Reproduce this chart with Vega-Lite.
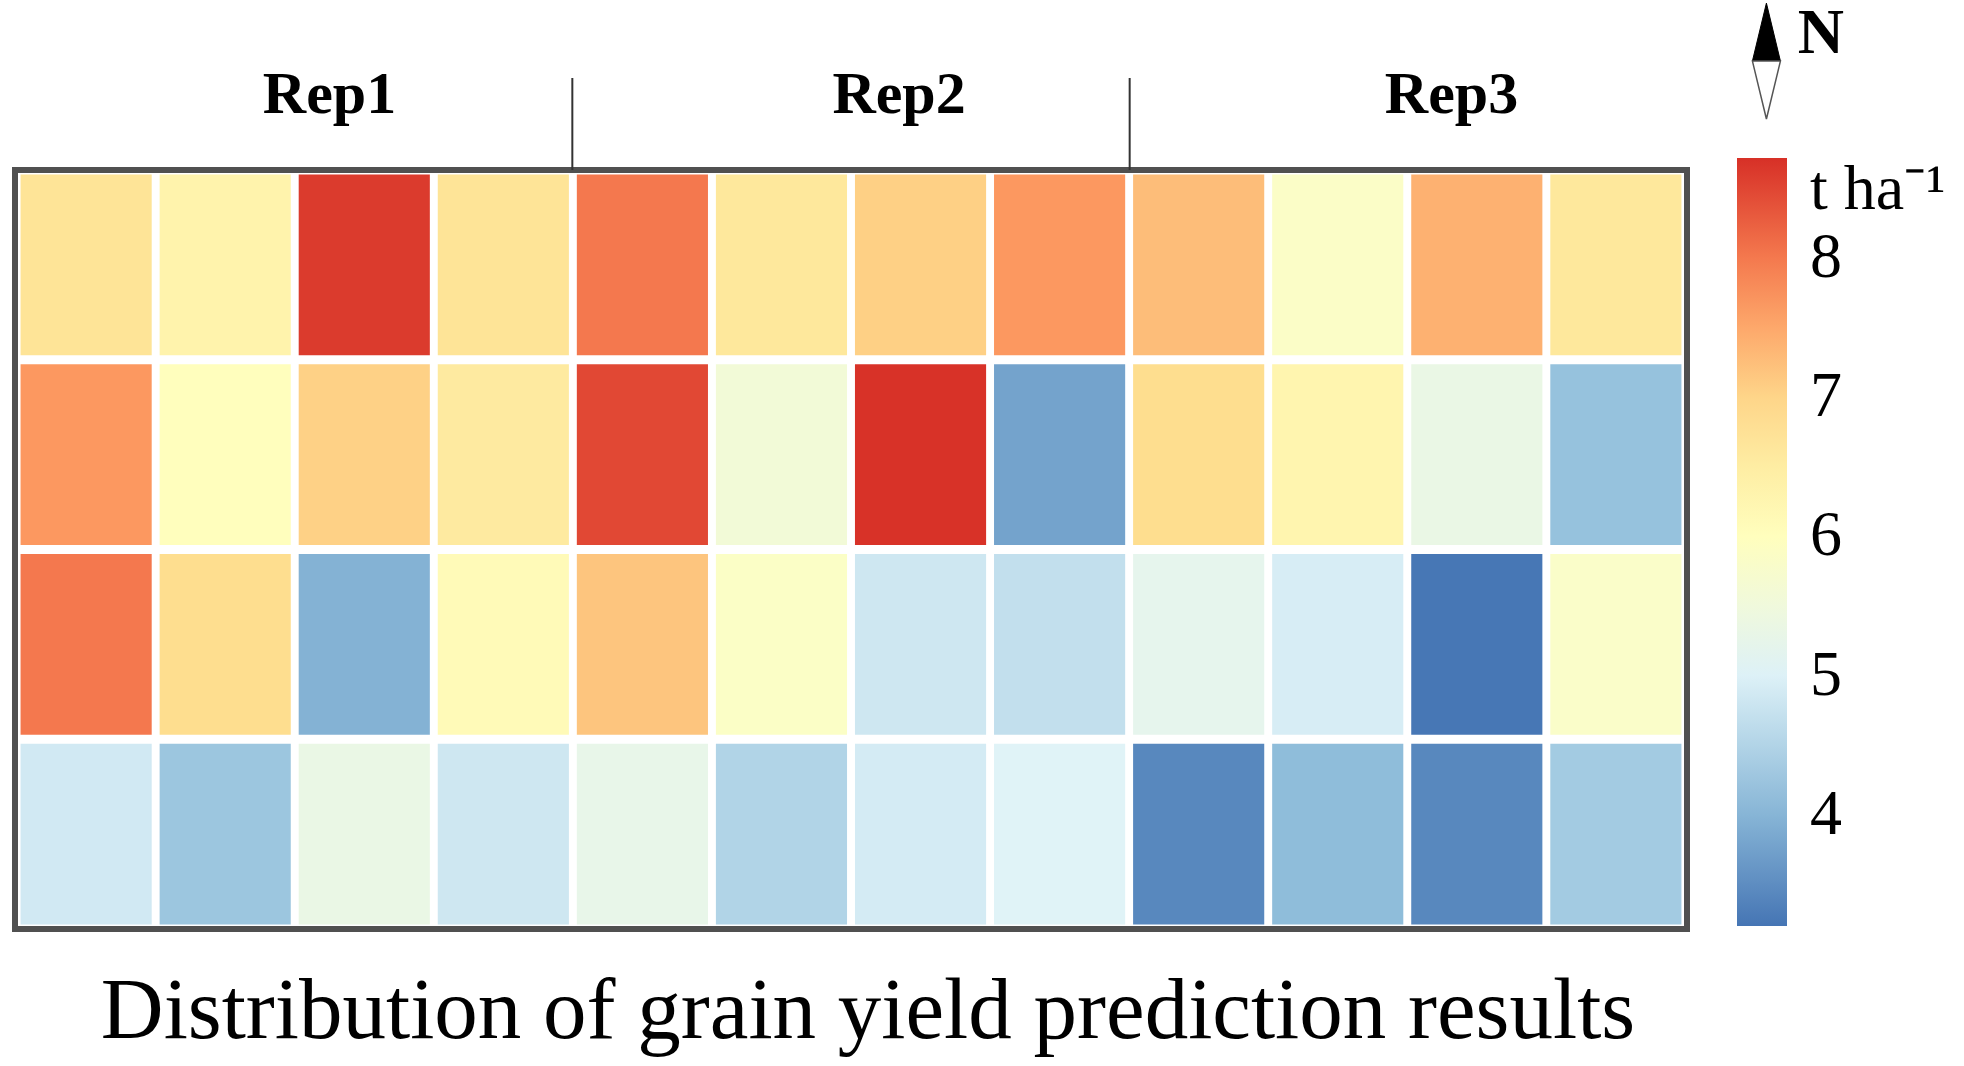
{
  "$schema": "https://vega.github.io/schema/vega-lite/v6.json",
  "width": 1672,
  "height": 759,
  "autosize": {"type": "none"},
  "padding": {"left": 15, "top": 170, "right": 277, "bottom": 137},
  "background": "white",
  "config": {
    "view": {"stroke": "#505050", "strokeWidth": 6},
    "font": "Liberation Serif"
  },
  "title": {
    "text": "Distribution of grain yield prediction results",
    "orient": "bottom",
    "anchor": "middle",
    "font": "Liberation Serif",
    "fontSize": 87,
    "fontWeight": "normal",
    "color": "black",
    "baseline": "alphabetic",
    "offset": 109,
    "dx": 17
  },
  "datasets": {
    "cells": [
      {"row": 1, "col": 1, "yield": 6.75}, {"row": 1, "col": 2, "yield": 6.33}, {"row": 1, "col": 3, "yield": 8.61}, {"row": 1, "col": 4, "yield": 6.75},
      {"row": 1, "col": 5, "yield": 8.01}, {"row": 1, "col": 6, "yield": 6.65}, {"row": 1, "col": 7, "yield": 7.06}, {"row": 1, "col": 8, "yield": 7.68},
      {"row": 1, "col": 9, "yield": 7.27}, {"row": 1, "col": 10, "yield": 5.83}, {"row": 1, "col": 11, "yield": 7.4}, {"row": 1, "col": 12, "yield": 6.65},
      {"row": 2, "col": 1, "yield": 7.68}, {"row": 2, "col": 2, "yield": 6.0}, {"row": 2, "col": 3, "yield": 7.05}, {"row": 2, "col": 4, "yield": 6.57},
      {"row": 2, "col": 5, "yield": 8.48}, {"row": 2, "col": 6, "yield": 5.57}, {"row": 2, "col": 7, "yield": 8.7}, {"row": 2, "col": 8, "yield": 3.77},
      {"row": 2, "col": 9, "yield": 6.9}, {"row": 2, "col": 10, "yield": 6.27}, {"row": 2, "col": 11, "yield": 5.35}, {"row": 2, "col": 12, "yield": 4.18},
      {"row": 3, "col": 1, "yield": 8.01}, {"row": 3, "col": 2, "yield": 6.9}, {"row": 3, "col": 3, "yield": 3.96}, {"row": 3, "col": 4, "yield": 6.1},
      {"row": 3, "col": 5, "yield": 7.18}, {"row": 3, "col": 6, "yield": 5.85}, {"row": 3, "col": 7, "yield": 4.83}, {"row": 3, "col": 8, "yield": 4.69},
      {"row": 3, "col": 9, "yield": 5.21}, {"row": 3, "col": 10, "yield": 4.93}, {"row": 3, "col": 11, "yield": 3.22}, {"row": 3, "col": 12, "yield": 5.8},
      {"row": 4, "col": 1, "yield": 4.87}, {"row": 4, "col": 2, "yield": 4.25}, {"row": 4, "col": 3, "yield": 5.35}, {"row": 4, "col": 4, "yield": 4.83},
      {"row": 4, "col": 5, "yield": 5.28}, {"row": 4, "col": 6, "yield": 4.49}, {"row": 4, "col": 7, "yield": 4.9}, {"row": 4, "col": 8, "yield": 5.05},
      {"row": 4, "col": 9, "yield": 3.43}, {"row": 4, "col": 10, "yield": 4.1}, {"row": 4, "col": 11, "yield": 3.43}, {"row": 4, "col": 12, "yield": 4.33}
    ],
    "reps": [
      {"label": "Rep1", "x": 2.257, "y": 4.3},
      {"label": "Rep2", "x": 6.345, "y": 4.3},
      {"label": "Rep3", "x": 10.31, "y": 4.3}
    ],
    "seps": [
      {"x": 4, "y": 4, "y2": 4.485},
      {"x": 8, "y": 4, "y2": 4.485}
    ],
    "north": [
      {"x": 12.57, "y": 4.574}
    ],
    "northlabel": [
      {"x": 12.96, "y": 4.617, "label": "N"}
    ]
  },
  "layer": [
    {
      "data": {"name": "cells"},
      "mark": {"type": "rect"},
      "encoding": {
        "x": {"field": "col", "type": "ordinal", "axis": null, "scale": {"paddingInner": 0.057, "paddingOuter": 0.04}},
        "y": {"field": "row", "type": "ordinal", "axis": null, "scale": {"paddingInner": 0.047, "paddingOuter": 0.024}},
        "color": {
          "field": "yield",
          "type": "quantitative",
          "scale": {
            "domain": [3.2, 8.72],
            "range": ["#4575b4", "#91bfdb", "#e0f3f8", "#ffffbf", "#fee090", "#fc8d59", "#d73027"],
            "interpolate": "rgb"
          },
          "legend": {
            "orient": "none",
            "legendX": 1722,
            "legendY": -12,
            "direction": "vertical",
            "gradientLength": 768,
            "gradientThickness": 50,
            "title": null,
            "values": [4, 5, 6, 7, 8, 8.72],
            "labelExpr": "datum.value > 8.5 ? 't ha⁻¹' : format(datum.value, 'd')",
            "labelFont": "Liberation Serif",
            "labelFontSize": 64,
            "labelColor": "black",
            "labelOffset": 23,
            "labelBaseline": "middle",
            "labelOverlap": false,
            "gradientStrokeWidth": 0,
            "padding": 0
          }
        }
      }
    },
    {
      "data": {"name": "seps"},
      "mark": {"type": "rule", "color": "#333333", "strokeWidth": 2},
      "encoding": {
        "x": {"field": "x", "type": "quantitative", "axis": null, "scale": {"domain": [0, 12], "nice": false, "zero": false}},
        "y": {"field": "y", "type": "quantitative", "axis": null, "scale": {"domain": [0, 4], "nice": false, "zero": false}},
        "y2": {"field": "y2"}
      }
    },
    {
      "data": {"name": "reps"},
      "mark": {"type": "text", "font": "Liberation Serif", "fontSize": 60, "fontWeight": "bold", "align": "center", "baseline": "alphabetic", "color": "black"},
      "encoding": {
        "x": {"field": "x", "type": "quantitative", "axis": null, "scale": {"domain": [0, 12], "nice": false, "zero": false}},
        "y": {"field": "y", "type": "quantitative", "axis": null, "scale": {"domain": [0, 4], "nice": false, "zero": false}},
        "text": {"field": "label"}
      }
    },
    {
      "data": {"name": "north"},
      "mark": {"type": "point", "shape": "M0,-4.14L1,0L-1,0Z", "size": 784, "filled": true, "fill": "black", "stroke": "black", "strokeWidth": 1, "opacity": 1},
      "encoding": {
        "x": {"field": "x", "type": "quantitative", "axis": null, "scale": {"domain": [0, 12], "nice": false, "zero": false}},
        "y": {"field": "y", "type": "quantitative", "axis": null, "scale": {"domain": [0, 4], "nice": false, "zero": false}}
      }
    },
    {
      "data": {"name": "north"},
      "mark": {"type": "point", "shape": "M-1,0L1,0L0,4.14Z", "size": 784, "filled": true, "fill": "white", "stroke": "#555555", "strokeWidth": 1.5, "opacity": 1},
      "encoding": {
        "x": {"field": "x", "type": "quantitative", "axis": null, "scale": {"domain": [0, 12], "nice": false, "zero": false}},
        "y": {"field": "y", "type": "quantitative", "axis": null, "scale": {"domain": [0, 4], "nice": false, "zero": false}}
      }
    },
    {
      "data": {"name": "northlabel"},
      "mark": {"type": "text", "font": "Liberation Serif", "fontSize": 64, "fontWeight": "bold", "align": "center", "baseline": "alphabetic", "color": "black"},
      "encoding": {
        "x": {"field": "x", "type": "quantitative", "axis": null, "scale": {"domain": [0, 12], "nice": false, "zero": false}},
        "y": {"field": "y", "type": "quantitative", "axis": null, "scale": {"domain": [0, 4], "nice": false, "zero": false}},
        "text": {"field": "label"}
      }
    }
  ],
  "resolve": {"scale": {"x": "independent", "y": "independent"}}
}
